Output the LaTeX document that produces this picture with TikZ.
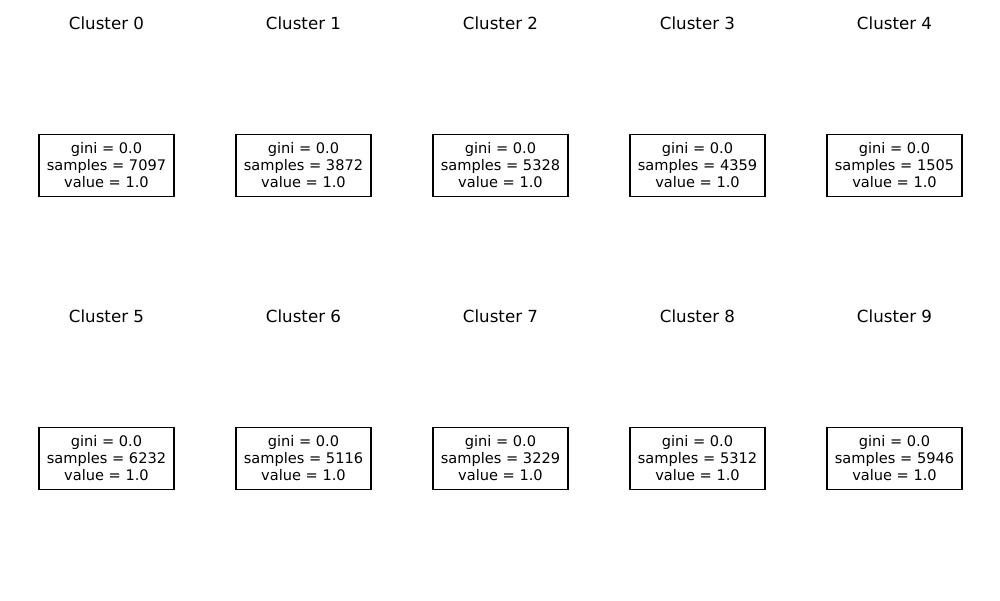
\documentclass[tikz,border=0pt]{standalone}
\usepackage{fontspec}
\setmainfont{DejaVu Sans}
\begin{document}
\begin{tikzpicture}[x=0.72pt,y=-0.72pt,
  titlestyle/.style={font=\fontsize{12pt}{14pt}\selectfont, inner sep=0pt},
  leafbox/.style={draw=black, line width=0.8pt, minimum width=97.2pt, minimum height=44.6pt, inner sep=0pt, align=center, font=\fontsize{10.5pt}{12.24pt}\selectfont}]
\useasboundingbox (0,0) rectangle (1000,600);
\foreach \i/\s [count=\k from 0] in {0/7097,1/3872,2/5328,3/4359,4/1505,5/6232,6/5116,7/3229,8/5312,9/5946}{
  \pgfmathtruncatemacro{\col}{mod(\k,5)}
  \pgfmathtruncatemacro{\row}{\k/5}
  \pgfmathsetmacro{\cx}{106.5+197*\col}
  \pgfmathsetmacro{\ty}{23+293*\row}
  \pgfmathsetmacro{\by}{165.3+293*\row}
  \node[titlestyle] (t\i) at (\cx,\ty) {Cluster \i};
  \node[leafbox] (b\i) at (\cx,\by) {gini = 0.0\\samples = \s\\value = 1.0};
}
\end{tikzpicture}
\end{document}
